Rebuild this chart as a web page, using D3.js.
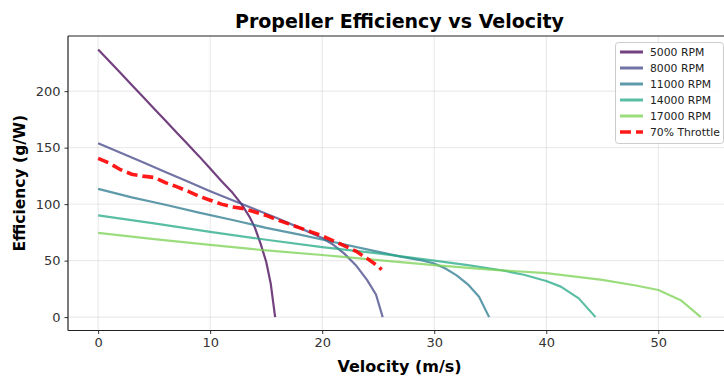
<!DOCTYPE html>
<html>
<head>
<meta charset="utf-8">
<script src="https://cdn.jsdelivr.net/npm/d3@7"></script>
<style>
  html, body { margin: 0; padding: 0; background: #fff; }
  svg { display: block; font-family: "DejaVu Sans", sans-serif; }
</style>
</head>
<body>
<svg id="chart" width="724" height="377"></svg>
<script>
// Efficiency (g/W) against airspeed (m/s) for several motor speeds
const seriesNames = ["5000 RPM", "8000 RPM", "11000 RPM", "14000 RPM", "17000 RPM"];
const seriesColors = ["#440154", "#414487", "#2a788e", "#22a884", "#7ad151"];

const rpm5000 = [
  [0, 237], [1, 226.5], [2, 216], [3, 205.5], [4, 195], [5, 184.5], [6, 174], [7, 163.5],
  [8, 153], [9, 142.5], [10, 131.5], [11, 120.5], [12, 110], [12.8, 100], [13.5, 89],
  [14, 79], [14.5, 65], [15, 49], [15.4, 30], [15.8, 0]
];
const rpm8000 = [
  [0, 154], [2, 145.5], [4, 137], [6, 128.5], [8, 120], [10, 111.5], [12, 103.5],
  [14, 95.5], [16, 87.5], [18, 79], [20, 70], [21, 64], [22, 56], [23, 46],
  [24, 33], [24.8, 20], [25.4, 0]
];
const rpm11000 = [
  [0, 113.5], [3, 106], [6, 99.5], [9, 92.5], [12, 86], [15, 79], [18, 73],
  [21, 66.5], [24, 60], [27, 53.5], [29, 50], [30, 47.5], [31, 43], [32, 37],
  [33, 29], [34, 18], [34.9, 0]
];
const rpm14000 = [
  [0, 90], [5, 83], [10, 75.5], [15, 68.5], [20, 62], [25, 56.5], [30, 50],
  [33, 46], [36, 41.5], [38, 37.5], [40, 32], [41.3, 27], [42.9, 16.6], [44.4, 0]
];
const rpm17000 = [
  [0, 74.5], [5, 69], [10, 64], [15, 59], [20, 55], [25, 50.5], [30, 46],
  [35, 42], [40, 39], [45, 33], [48, 28], [50, 24], [52, 15], [53.8, 0]
];
const throttle70 = [
  [0, 140.5], [1, 136.3], [2, 130.5], [3, 126.5], [4, 124.8], [5, 123.6], [6, 119],
  [7, 115.5], [8, 111.5], [9, 107], [10, 103.5], [11, 100], [12, 97.5], [13, 96],
  [14, 93], [15, 90], [16, 86], [17, 82.5], [18, 79], [19, 75.5], [20, 72],
  [21, 67.5], [22, 63], [23, 58.5], [24, 52], [25, 45], [25.3, 42]
];
const throttleName = "70% Throttle";

const xTicks = [0, 10, 20, 30, 40, 50];
const yTicks = [0, 50, 100, 150, 200];

const titleText = "Propeller Efficiency vs Velocity";
const xLabelText = "Velocity (m/s)";
const yLabelText = "Efficiency (g/W)";

const rpmSeries = [rpm5000, rpm8000, rpm11000, rpm14000, rpm17000];

// ---- layout ----
const svg = d3.select("#chart");
const plot = { left: 68, right: 731, top: 36, bottom: 330.5 };

const allPts = rpmSeries.flat().concat(throttle70);
const xExt = d3.extent(allPts, d => d[0]);
const yExt = d3.extent(allPts, d => d[1]);
const xPad = (xExt[1] - xExt[0]) * 0.05;
const yPad = (yExt[1] - yExt[0]) * 0.05;

const x = d3.scaleLinear().domain([xExt[0] - xPad, xExt[1] + xPad]).range([plot.left, plot.right]);
const y = d3.scaleLinear().domain([yExt[0] - yPad, yExt[1] + yPad]).range([plot.bottom, plot.top]);

svg.append("defs").append("clipPath").attr("id", "plotClip")
  .append("rect")
  .attr("x", plot.left).attr("y", plot.top)
  .attr("width", plot.right - plot.left).attr("height", plot.bottom - plot.top);

// grid
const grid = svg.append("g").attr("stroke", "#b0b0b0").attr("stroke-opacity", 0.3).attr("stroke-width", 1);
grid.selectAll("line.gx").data(xTicks).join("line")
  .attr("x1", d => x(d)).attr("x2", d => x(d))
  .attr("y1", plot.top).attr("y2", plot.bottom);
grid.selectAll("line.gy").data(yTicks).join("line")
  .attr("y1", d => y(d)).attr("y2", d => y(d))
  .attr("x1", plot.left).attr("x2", plot.right);

// curves
const line = d3.line().x(d => x(d[0])).y(d => y(d[1]));
const curves = svg.append("g").attr("clip-path", "url(#plotClip)");
rpmSeries.forEach((s, i) => {
  curves.append("path")
    .attr("d", line(s))
    .attr("fill", "none")
    .attr("stroke", seriesColors[i])
    .attr("stroke-opacity", 0.75)
    .attr("stroke-width", 2.2)
    .attr("stroke-linejoin", "round");
});
curves.append("path")
  .attr("d", line(throttle70))
  .attr("fill", "none")
  .attr("stroke", "#ff0000")
  .attr("stroke-opacity", 0.9)
  .attr("stroke-width", 3.6)
  .attr("stroke-dasharray", "11,5");

// axes
const xAxis = svg.append("g")
  .attr("transform", `translate(0,${plot.bottom})`)
  .call(d3.axisBottom(x).tickValues(xTicks).tickSize(3.5).tickPadding(4).tickFormat(d3.format("d")));
const yAxis = svg.append("g")
  .attr("transform", `translate(${plot.left},0)`)
  .call(d3.axisLeft(y).tickValues(yTicks).tickSize(3.5).tickPadding(4).tickFormat(d3.format("d")));
[xAxis, yAxis].forEach(a => {
  a.select(".domain").remove();
  a.selectAll(".tick line").attr("stroke", "#333").attr("stroke-width", 1);
  a.selectAll(".tick text").attr("fill", "#333").style("font-size", "13px")
    .style("font-family", "'DejaVu Sans', sans-serif");
});

// spines
const spines = svg.append("g").attr("stroke", "#222").attr("stroke-width", 1.2);
spines.append("line").attr("x1", plot.left).attr("x2", plot.left).attr("y1", plot.top).attr("y2", plot.bottom);
spines.append("line").attr("x1", plot.left).attr("x2", plot.right).attr("y1", plot.bottom).attr("y2", plot.bottom);
spines.append("line").attr("x1", plot.left).attr("x2", plot.right).attr("y1", plot.top).attr("y2", plot.top);
spines.append("line").attr("x1", plot.right).attr("x2", plot.right).attr("y1", plot.top).attr("y2", plot.bottom);

// titles
svg.append("text")
  .attr("x", (plot.left + plot.right) / 2).attr("y", 28)
  .attr("text-anchor", "middle")
  .style("font-size", "19px").style("font-weight", "bold")
  .text(titleText);
svg.append("text")
  .attr("x", (plot.left + plot.right) / 2).attr("y", 372)
  .attr("text-anchor", "middle")
  .style("font-size", "16px").style("font-weight", "bold")
  .text(xLabelText);
svg.append("text")
  .attr("transform", `translate(25,${(plot.top + plot.bottom) / 2}) rotate(-90)`)
  .attr("text-anchor", "middle")
  .style("font-size", "15.5px").style("font-weight", "bold")
  .text(yLabelText);

// legend
const legendItems = seriesNames.map((n, i) => ({ name: n, color: seriesColors[i], dashed: false }))
  .concat([{ name: throttleName, color: "#ff0000", dashed: true }]);
const lg = svg.append("g").attr("transform", "translate(615,42)");
lg.append("rect")
  .attr("x", 0.5).attr("y", 0.5).attr("width", 108).attr("height", 101)
  .attr("rx", 3)
  .attr("fill", "#fff").attr("fill-opacity", 0.85)
  .attr("stroke", "#cccccc").attr("stroke-width", 1);
const rows = lg.selectAll("g.row").data(legendItems).join("g")
  .attr("transform", (d, i) => `translate(0,${10 + i * 16})`);
rows.append("line")
  .attr("x1", 5).attr("x2", 28).attr("y1", 0).attr("y2", 0)
  .attr("stroke", d => d.color)
  .attr("stroke-opacity", d => d.dashed ? 0.9 : 0.75)
  .attr("stroke-width", d => d.dashed ? 3.6 : 3)
  .attr("stroke-dasharray", d => d.dashed ? "11,5" : null);
rows.append("text")
  .attr("x", 35).attr("y", 0).attr("dy", "0.35em")
  .style("font-size", "10.8px").attr("fill", "#222")
  .text(d => d.name);
</script>
</body>
</html>
